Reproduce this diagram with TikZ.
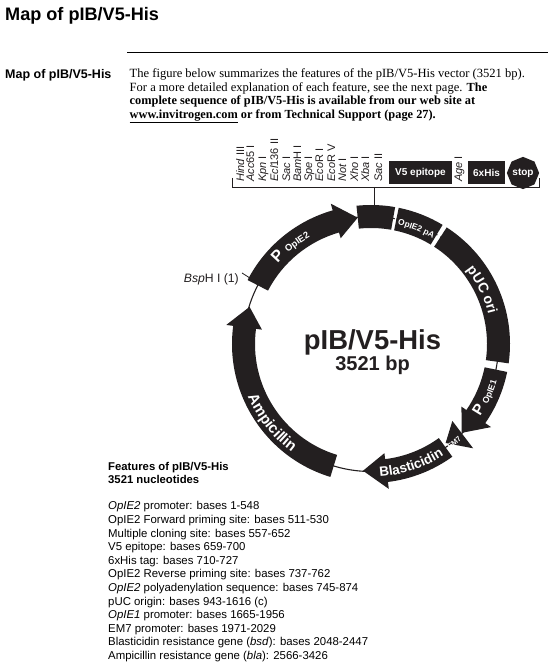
\documentclass[tikz,border=0pt]{standalone}
\usepackage{fontspec}
\setmainfont{Liberation Serif}
\setsansfont{Liberation Sans}
\usepackage{tikz}
\usetikzlibrary{arrows.meta, calc, positioning, decorations.text, shapes.geometric}
\definecolor{inkdark}{HTML}{231F20}

\tikzset{
    band/.style={fill=inkdark, draw=none},
    ringline/.style={draw=inkdark, line width=1.1pt},
    sanstext/.style={inner sep=0pt, font=\sffamily, text=black},
    sitelabel/.style={inner sep=0pt, rotate=90, anchor=base west, text=inkdark,
        font=\sffamily\fontsize{11}{12}\selectfont},
    tagbox/.style={fill=inkdark, text=white, inner sep=0pt,
        font=\sffamily\bfseries\fontsize{10}{12}\selectfont},
    bandtext/.style={decorate, decoration={text along path, text align=center, text={#1}}}
}
% white letters on the dark band
\newcommand{\wht}[1]{\sffamily\bfseries\fontsize{#1}{#1}\selectfont\color{white}}
% bold body text
\newcommand{\bodybold}{\bfseries\fontsize{12.35}{13.6}\selectfont}
% plain block: angles a to b
\newcommand{\blockarc}[2]{\fill[band] (#1:139) arc[start angle=#1, end angle=#2, radius=139]
    -- (#2:116) arc[start angle=#2, end angle=#1, radius=116] -- cycle;}
% arrow: tail, head base, tip
\newcommand{\arrowarc}[3]{\fill[band] (#1:139) arc[start angle=#1, end angle=#2, radius=139]
    -- (#2:146) -- (#3:127) -- (#2:110) -- (#2:116) arc[start angle=#2, end angle=#1, radius=116] -- cycle;}

\begin{document}
\begin{tikzpicture}[x=1pt, y=1pt]
    \useasboundingbox (0,0) rectangle (549,670);
    \fill[white] (0,0) rectangle (549,670);

    % page head
    \node[sanstext, anchor=base west, font=\sffamily\bfseries\fontsize{18.1}{20}\selectfont] (title) at (5,649) {Map of pIB/V5-His};
    \coordinate (ruleL) at (127,617.7);
    \coordinate (ruleR) at (548,617.7);
    \draw[line width=0.8pt] (ruleL) -- (ruleR);
    \node[sanstext, anchor=base west, font=\sffamily\bfseries\fontsize{12.5}{15}\selectfont] (side) at (5,591) {Map of pIB/V5-His};
    \node[inner sep=0pt, anchor=north west, align=left, font=\fontsize{12.55}{13.6}\selectfont] (intro) at (129.5,601.5)
        {The figure below summarizes the features of the pIB/V5-His vector (3521 bp).\\
         For a more detailed explanation of each feature, see the next page. {\bodybold The}\\
         {\bodybold complete sequence of pIB/V5-His is available from our web site at}\\
         {\bodybold \underline{www.invitrogen.com} or from Technical Support (page 27).}};

    % polylinker labels
    \foreach \sx/\sname [count=\si] in {244/\textit{Hind} III, 254/\textit{Acc}65 I, 266/\textit{Kpn} I,
        278/\textit{Ecl}136 II, 290/\textit{Sac} I, 301/\textit{Bam}H I, 312/\textit{Spe} I, 323/\textit{Eco}R I,
        335/\textit{Eco}R V, 346/\textit{Not} I, 358/\textit{Xho} I, 369/\textit{Xba} I, 382/\textit{Sac} II, 462/\textit{Age} I}
        \node[sitelabel] (site\si) at (\sx,488) {\sname};
    \node[tagbox, minimum width=63pt, minimum height=23pt] (vfive) at (420.5,497.5) {V5 epitope};
    \node[tagbox, minimum width=37pt, minimum height=23pt] (sixhis) at (486.5,497.5) {6xHis};
    \node[tagbox, regular polygon, regular polygon sides=8, shape border rotate=22.5, minimum size=26pt] (stopsign) at (523,497) {stop};

    % bracket
    \coordinate (brkL) at (232,492);
    \coordinate (brkR) at (539,492);
    \coordinate (brkM) at (374.3,483);
    \draw[inkdark, line width=0.8pt] (brkL) -- ++(0,-9) -- (brkR |- brkM) -- (brkR);

    % plasmid map
    \begin{scope}[shift={(371,326)}]
        \draw[ringline] (0,0) circle (127.5);
        % clear ring between blocks that only touch by a gap
        \draw[white, line width=3pt] (79.2:127.5) arc[start angle=79.2, end angle=78.6, radius=127.5];
        \draw[white, line width=3pt] (58.6:127.5) arc[start angle=58.6, end angle=57.2, radius=127.5];

        \arrowarc{152.6}{106}{96}
        \blockarc{96}{80}
        \blockarc{78.5}{59}
        \blockarc{57}{-8}
        \arrowarc{-11.6}{-34.7}{-44.4}
        \fill[band] (-45.6:146) -- (-53:124) -- (-43.4:112) -- cycle;
        \arrowarc{-54.2}{-83}{-93.6}
        \arrowarc{253}{172.5}{163}

        \path[bandtext={|\wht{16}|P |\wht{9.4}|OpIE2}] (167:123) arc[start angle=167, end angle=92, radius=123];
        \path[bandtext={|\wht{8.4}|OpIE2 pA}] (95:122) arc[start angle=95, end angle=42, radius=122];
        \path[bandtext={|\wht{14}|pUC ori}] (60:121) arc[start angle=60, end angle=-8, radius=121];
        \path[bandtext={|\wht{15}|P |\wht{8.8}|OpIE1}] (-60:131) arc[start angle=-60, end angle=10, radius=131];
        \path[bandtext={|\wht{7.4}|EM7}] (-70:132) arc[start angle=-70, end angle=-30, radius=132];
        \path[bandtext={|\wht{13.5}|Blasticidin}] (-105:133) arc[start angle=-105, end angle=-38, radius=133];
        \path[bandtext={|\wht{15}|Ampicillin}] (185:134) arc[start angle=185, end angle=252, radius=134];

        \coordinate (mcsTop) at (3.3,139);
        \coordinate (bspTick) at (-118,64);
        \coordinate (bspEnd) at (-129,71);
    \end{scope}
    \draw[inkdark, line width=0.8pt] (brkM) -- (mcsTop);
    \draw[inkdark, line width=0.8pt] (bspTick) -- (bspEnd);

    \node[sanstext, anchor=base east, text=inkdark, font=\sffamily\fontsize{12.2}{14}\selectfont] (bsp) at (239,387) {\textit{Bsp}H I (1)};
    \node[sanstext, anchor=base, text=inkdark, font=\sffamily\bfseries\fontsize{27.4}{32}\selectfont] (plasmid) at (372.5,320) {pIB/V5-His};
    \node[sanstext, anchor=base, text=inkdark, font=\sffamily\bfseries\fontsize{20}{24}\selectfont] (size) at (372.5,299) {3521 bp};

    % feature list
    \node[sanstext, anchor=base west, font=\sffamily\bfseries\fontsize{11.3}{13.6}\selectfont] (listhead) at (108,199) {Features of pIB/V5-His};
    \node[sanstext, anchor=base west, font=\sffamily\bfseries\fontsize{11.3}{13.6}\selectfont] (listsize) at (108,186) {3521 nucleotides};
    \node[sanstext, anchor=north west, align=left, font=\sffamily\fontsize{11.4}{13.6}\selectfont] (list) at (108,168.5)
        {\textit{OpIE2} promoter: bases 1-548\\
         OpIE2 Forward priming site: bases 511-530\\
         Multiple cloning site: bases 557-652\\
         V5 epitope: bases 659-700\\
         6xHis tag: bases 710-727\\
         OpIE2 Reverse priming site: bases 737-762\\
         \textit{OpIE2} polyadenylation sequence: bases 745-874\\
         pUC origin: bases 943-1616 (c)\\
         \textit{OpIE1} promoter: bases 1665-1956\\
         EM7 promoter: bases 1971-2029\\
         Blasticidin resistance gene (\textit{bsd}): bases 2048-2447\\
         Ampicillin resistance gene (\textit{bla}): 2566-3426};
\end{tikzpicture}
\end{document}
